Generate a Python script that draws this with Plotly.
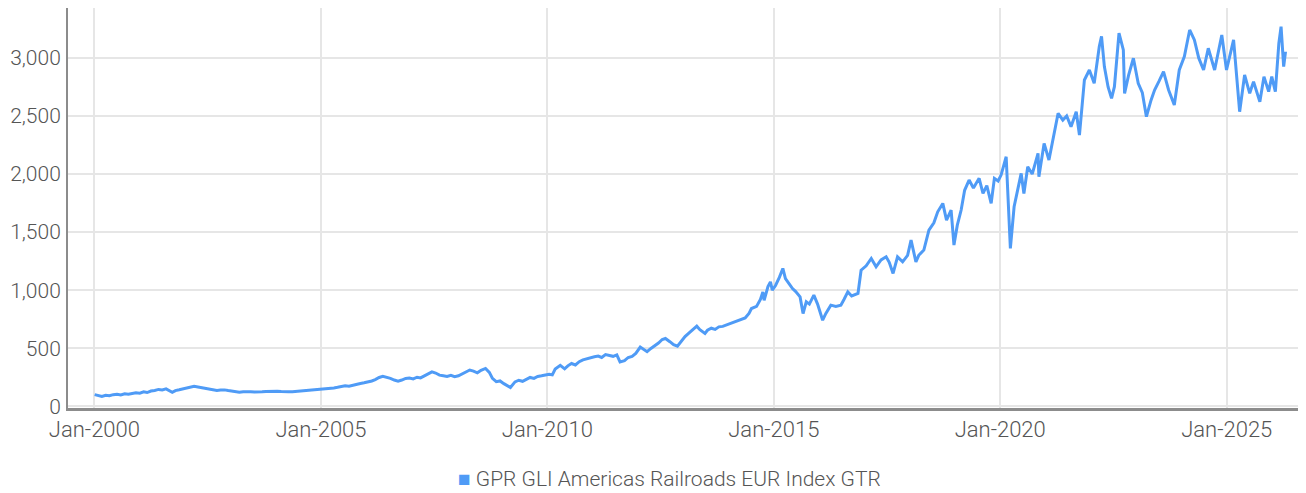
import plotly.graph_objects as go

series_name = "GPR GLI Americas Railroads EUR Index GTR"

dates = [
    "2000-01-03","2000-02-01","2000-03-01","2000-04-01","2000-05-01","2000-06-01","2000-07-01","2000-08-01","2000-09-01","2000-10-01","2000-11-01","2000-12-01",
    "2001-01-01","2001-02-01","2001-03-01","2001-04-01","2001-05-01","2001-06-01","2001-07-01","2001-08-01","2001-09-20","2001-10-15","2001-11-15","2001-12-15",
    "2002-01-15","2002-02-15","2002-03-15","2002-04-15","2002-05-15","2002-06-15","2002-07-15","2002-08-15","2002-09-15","2002-10-15","2002-11-15","2002-12-15",
    "2003-01-15","2003-02-15","2003-03-15","2003-04-15","2003-05-15","2003-06-15","2003-07-15","2003-08-15","2003-09-15","2003-10-15","2003-11-15","2003-12-15",
    "2004-01-15","2004-02-15","2004-03-15","2004-04-15","2004-05-15","2004-06-15","2004-07-15","2004-08-15","2004-09-15","2004-10-15","2004-11-15","2004-12-15",
    "2005-01-15","2005-02-15","2005-03-15","2005-04-15","2005-05-15","2005-06-15","2005-07-15","2005-08-15","2005-09-15","2005-10-15","2005-11-15","2005-12-15",
    "2006-01-15","2006-02-15","2006-03-15","2006-04-15","2006-05-15","2006-06-15","2006-07-15","2006-08-15","2006-09-15","2006-10-15","2006-11-15","2006-12-15",
    "2007-01-15","2007-02-15","2007-03-15","2007-04-15","2007-05-15","2007-06-15","2007-07-15","2007-08-15","2007-09-15","2007-10-15","2007-11-15","2007-12-15",
    "2008-01-15","2008-02-15","2008-03-15","2008-04-15","2008-05-15","2008-06-15","2008-07-15","2008-08-20","2008-09-20","2008-10-15","2008-11-15","2008-12-15",
    "2009-01-15","2009-02-20","2009-03-09","2009-04-15","2009-05-15","2009-06-15","2009-07-15","2009-08-15","2009-09-15","2009-10-15","2009-11-15","2009-12-15",
    "2010-01-15","2010-02-10","2010-03-05","2010-04-15","2010-05-20","2010-06-15","2010-07-15","2010-08-15","2010-09-15","2010-10-15","2010-11-15","2010-12-15",
    "2011-01-15","2011-02-15","2011-03-15","2011-04-15","2011-05-15","2011-06-15","2011-07-15","2011-08-10","2011-09-15","2011-10-15","2011-11-15","2011-12-15",
    "2012-01-20","2012-02-15","2012-03-15","2012-04-15","2012-05-15","2012-06-15","2012-07-15","2012-08-10","2012-09-15","2012-10-15","2012-11-15","2012-12-15",
    "2013-01-15","2013-02-15","2013-03-15","2013-04-20","2013-05-15","2013-06-25","2013-07-15","2013-08-15","2013-09-15","2013-10-15","2013-11-15","2013-12-15",
    "2014-01-15","2014-02-15","2014-03-15","2014-04-10","2014-05-15","2014-06-15","2014-07-05","2014-08-15","2014-09-15","2014-10-05","2014-10-15","2014-11-15","2014-12-05","2014-12-20",
    "2015-01-15","2015-02-15","2015-03-15","2015-04-05","2015-05-01","2015-06-01","2015-06-25","2015-08-01","2015-08-25","2015-09-20","2015-10-15","2015-11-20","2015-12-20",
    "2016-01-30","2016-02-25","2016-04-05","2016-05-15","2016-06-25","2016-07-20","2016-08-20","2016-09-20","2016-11-10","2016-12-05",
    "2017-01-15","2017-02-25","2017-04-05","2017-05-15","2017-06-25","2017-07-20","2017-08-20","2017-09-25","2017-11-05","2017-12-15",
    "2018-01-12","2018-02-20","2018-03-15","2018-04-25","2018-06-05","2018-07-15","2018-08-15","2018-09-25","2018-10-25","2018-12-01","2018-12-24",
    "2019-01-20","2019-02-20","2019-03-20","2019-04-25","2019-05-30","2019-07-15","2019-08-15","2019-09-15","2019-10-20","2019-11-15","2019-12-15",
    "2020-01-08","2020-02-18","2020-03-23","2020-04-22","2020-05-20","2020-06-18","2020-07-10","2020-08-10","2020-09-15","2020-11-01","2020-11-08","2020-12-20",
    "2021-01-28","2021-03-05","2021-04-12","2021-05-20","2021-06-20","2021-07-25","2021-09-05","2021-10-01","2021-11-10","2021-12-20",
    "2022-01-28","2022-03-10","2022-03-28","2022-04-20","2022-05-20","2022-06-17","2022-07-10","2022-08-16","2022-09-20","2022-09-30","2022-11-01","2022-12-10",
    "2023-01-18","2023-02-20","2023-03-25","2023-05-02","2023-05-30","2023-07-05","2023-08-10","2023-09-20","2023-11-05","2023-12-15",
    "2024-01-25","2024-03-08","2024-04-15","2024-05-20","2024-06-28","2024-08-05","2024-09-25","2024-11-22","2024-12-30",
    "2025-02-25","2025-03-20","2025-04-15","2025-05-25","2025-07-05","2025-08-05","2025-09-25","2025-10-28","2025-12-05","2025-12-30",
    "2026-01-28","2026-02-25","2026-03-15","2026-04-05","2026-04-20",
]

values = [
    100, 90, 84, 95, 90, 100, 104, 97, 108, 103, 112, 117,
    113, 124, 118, 131, 136, 145, 140, 150, 120, 135, 142, 150,
    158, 165, 172, 166, 160, 152, 145, 142, 136, 139, 141, 135,
    131, 125, 120, 124, 127, 125, 123, 121, 124, 127, 129, 128,
    130, 127, 124, 126, 125, 128, 131, 133, 135, 140, 143, 147,
    150, 148, 152, 158, 163, 168, 176, 172, 182, 188, 196, 202,
    208, 218, 230, 248, 258, 252, 240, 226, 216, 226, 240, 244,
    236, 250, 244, 262, 278, 296, 286, 268, 262, 256, 266, 255,
    262, 280, 298, 312, 302, 288, 310, 326, 292, 240, 212, 218,
    195, 175, 162, 210, 224, 215, 232, 248, 240, 256, 262, 268,
    276, 270, 320, 352, 322, 348, 368, 356, 384, 400, 410, 420,
    426, 432, 420, 445, 438, 430, 442, 382, 392, 420, 430, 455,
    510, 490, 470, 498, 520, 545, 575, 584, 556, 530, 517, 560,
    600, 630, 655, 690, 660, 628, 655, 672, 662, 684, 688, 700,
    712, 725, 735, 742, 760, 800, 842, 860, 920, 985, 912, 1030, 1071, 1000,
    1040, 1110, 1187, 1100, 1058, 1014, 990, 942, 799, 900, 880, 957, 880,
    741, 800, 871, 860, 871, 920, 985, 950, 971, 1172,
    1210, 1273, 1201, 1260, 1287, 1240, 1144, 1287, 1244, 1300,
    1431, 1244, 1300, 1345, 1517, 1580, 1675, 1747, 1603, 1690, 1388,
    1560, 1690, 1860, 1948, 1880, 1963, 1833, 1900, 1747, 1963, 1940,
    1991, 2149, 1359, 1718, 1850, 2006, 1833, 2063, 2000, 2178, 1977, 2264,
    2121, 2321, 2523, 2465, 2500, 2408, 2537, 2336, 2810, 2896,
    2782, 3099, 3185, 2925, 2750, 2652, 2752, 3214, 3069, 2695, 2850, 2997,
    2782, 2700, 2494, 2638, 2724, 2800, 2882, 2724, 2595, 2896,
    3011, 3241, 3155, 3000, 2896, 3083, 2896, 3198, 2896,
    3155, 2853, 2537, 2853, 2695, 2796, 2623, 2839, 2710, 2839,
    2710, 3126, 3270, 2925, 3054,
]

y_ticks = [0, 500, 1000, 1500, 2000, 2500, 3000]

line_color = "#4f9bf6"
text_color = "#555555"
font_family = "Roboto, 'Open Sans', sans-serif"
x_tick_font = dict(family=font_family, size=22, color=text_color, weight=300)
y_tick_font = dict(family=font_family, size=21, color=text_color, weight=300)
legend_font = dict(family=font_family, size=21, color=text_color, weight=300)

fig = go.Figure()
fig.add_trace(go.Scatter(
    x=dates, y=values, mode="lines", name=series_name,
    line=dict(color=line_color, width=3), showlegend=False,
))

# The page body adds an 8px margin, so the figure is sized and offset to fit the window.
fig.update_layout(
    width=1298, height=485,
    margin=dict(l=60, r=1, t=0, b=85, autoexpand=False),
    paper_bgcolor="white", plot_bgcolor="white",
    font=x_tick_font,
    showlegend=False,
    annotations=[dict(
        text=f"<span style='color:{line_color}'>■</span> {series_name}",
        xref="paper", yref="paper", x=0.486, y=-0.1775,
        xanchor="center", yanchor="middle", showarrow=False,
        font=legend_font,
    )],
)

fig.update_xaxes(
    type="date",
    range=["1999-06-02", "2026-09-24"],
    tick0="2000-01-01", dtick="M60", tickformat="%b-%Y",
    showgrid=True, gridcolor="#e6e6e6", gridwidth=2,
    showline=True, linecolor="#8c8c8c", linewidth=3,
    ticks="", zeroline=False, automargin=False,
    tickfont=x_tick_font,
)
fig.update_yaxes(
    range=[-15, 3430],
    tickvals=y_ticks, tickformat=",d",
    showgrid=True, gridcolor="#e6e6e6", gridwidth=2,
    showline=True, linecolor="#8c8c8c", linewidth=2,
    ticks="", zeroline=False, ticklabelstandoff=1, automargin=False,
    tickfont=y_tick_font,
)

fig.write_html("out.html")
